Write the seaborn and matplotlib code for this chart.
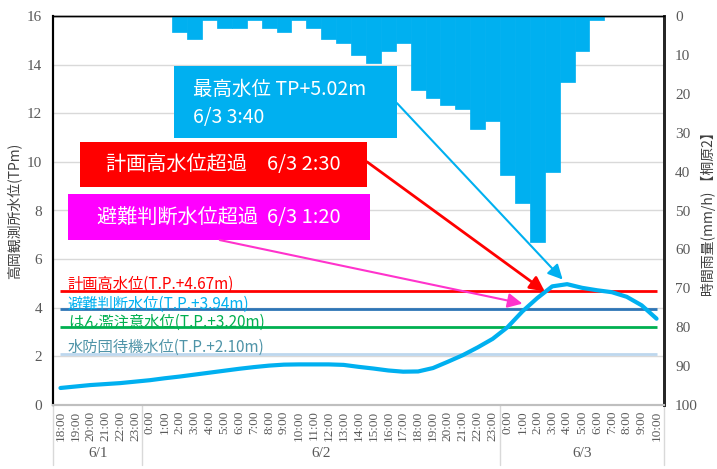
import pandas as pd
import matplotlib.pyplot as plt
from matplotlib.patches import Rectangle
import seaborn as sns

# ---------------------------------------------------------
# Data (hourly, 6/1 18:00 -> 6/3 10:00)
# ---------------------------------------------------------
time_labels = ([f'{h}:00' for h in range(18, 24)] +
               [f'{h}:00' for h in range(0, 24)] +
               [f'{h}:00' for h in range(0, 11)])
day_labels = ['6/1', '6/2', '6/3']
day_spans = [(-0.5, 5.5), (5.5, 29.5), (29.5, 40.5)]

# hourly rainfall (mm/h) at 桐原2
rain = [0, 0, 0, 0, 0, 0,
        0, 0, 4, 6, 1, 3, 3, 1, 3, 4, 1, 3, 6, 7, 10, 12, 9, 7,
        19, 21, 23, 24, 29, 27,
        41, 48, 58, 40, 17, 9, 1, 0, 0, 0, 0]

# water level at 高岡観測所 (T.P. m)
level = [0.70, 0.76, 0.82, 0.86, 0.90, 0.96,
         1.02, 1.10, 1.17, 1.25, 1.33, 1.41, 1.49, 1.56, 1.62, 1.66,
         1.67, 1.67, 1.67, 1.65, 1.57, 1.50, 1.42, 1.37,
         1.38, 1.52, 1.78, 2.05, 2.37, 2.72,
         3.20, 3.85, 4.40, 4.88, 4.97, 4.82, 4.72, 4.64, 4.45, 4.10, 3.55]

thr_names = ['計画高水位(T.P.+4.67m)', '避難判断水位(T.P.+3.94m)',
             'はん濫注意水位(T.P.+3.20m)', '水防団待機水位(T.P.+2.10m)']
thr_values = [4.67, 3.94, 3.20, 2.10]
thr_line_colors = ['#FF0000', '#2E75B6', '#00B050', '#BDD7EE']
thr_text_colors = ['#FF0000', '#00B0F0', '#00B050', '#4F94A8']
thr_text_y = [4.96, 4.16, 3.40, 2.37]

df = pd.DataFrame({'pos': range(len(time_labels)), 'rain': rain, 'level': level})

# ---------------------------------------------------------
# Plot
# ---------------------------------------------------------
sns.set_style('white')
plt.rcParams['font.family'] = ['Noto Sans CJK JP', 'DejaVu Sans']
serif = 'Liberation Serif'
gray = '#595959'
blue = '#00B0F0'

fig = plt.figure(figsize=(7.17, 4.69), dpi=100)
ax = fig.add_axes([53 / 717, 1 - 405 / 469, 611 / 717, 389 / 469])
ax2 = ax.twinx()

# rainfall bars hanging from the top (right axis, inverted)
sns.barplot(data=df, x='pos', y='rain', ax=ax2, color=blue, saturation=1,
            width=1.0, linewidth=0.5, edgecolor=blue)
ax2.set_ylim(100, 0)

# threshold lines + labels
for name, v, lc, tc, ty in zip(thr_names, thr_values, thr_line_colors,
                               thr_text_colors, thr_text_y):
    ax.hlines(v, 0, 40, color=lc, lw=2, zorder=2)
    ax.text(0.5, ty, name, color=tc, fontsize=11, va='center', ha='left', zorder=3)

# water level
sns.lineplot(data=df, x='pos', y='level', ax=ax, color=blue, lw=3, zorder=4)

ax.set_ylim(0, 16)
ax.set_xlim(-0.5, 40.5)
ax.set_yticks(range(0, 17, 2))
ax.set_xticks(range(len(time_labels)))
ax.set_xticklabels(time_labels, rotation=90)
ax2.set_yticks(range(0, 101, 10))
ax.yaxis.grid(True, color='#D9D9D9', lw=1)
ax.xaxis.grid(False)
ax.set_axisbelow(True)

for a in (ax, ax2):
    a.tick_params(length=0, labelfontfamily=serif, labelcolor=gray)
    a.tick_params(axis='y', labelsize=11)
    a.spines['top'].set_color('black')
    a.spines['top'].set_linewidth(1)
    a.spines['left'].set_color('black')
    a.spines['left'].set_linewidth(1.5)
    a.spines['right'].set_color('#262626')
    a.spines['right'].set_linewidth(2)
    a.spines['bottom'].set_color('#BFBFBF')
    a.spines['bottom'].set_linewidth(1.5)
ax.tick_params(axis='y', pad=8)
ax2.tick_params(axis='y', pad=8)
ax.tick_params(axis='x', pad=4, labelsize=9.5)

ax.set_xlabel('')
ax.set_ylabel('高岡観測所水位(TPm)', fontsize=10, color='#404040', labelpad=4)
ax2.set_ylabel('時間雨量(mm/h) 【桐原2】', fontsize=10, color='#404040',
               labelpad=2, rotation=90)

# date groups below the hour labels
trans = ax.get_xaxis_transform()
for x in [-0.5, 5.5, 29.5, 40.5]:
    ax.plot([x, x], [0, -0.155], transform=trans, color='#D9D9D9', lw=1, clip_on=False)
for d, (x0, x1) in zip(day_labels, day_spans):
    ax.text((x0 + x1) / 2, -0.125, d, transform=trans, ha='center', va='center',
            family=serif, color=gray, fontsize=11)

# ---------------------------------------------------------
# Callout boxes and arrows (drawn on ax2 so they sit above the bars)
# ---------------------------------------------------------
boxes = [
    ((0.198, 0.686), 0.365, 0.185, blue),
    ((0.044, 0.560), 0.470, 0.116, '#FF0000'),
    ((0.0245, 0.424), 0.4945, 0.118, '#FF00FF'),
]
for (x0, y0), w, h, c in boxes:
    ax2.add_patch(Rectangle((x0, y0), w, h, transform=ax2.transAxes,
                            facecolor=c, edgecolor='none', zorder=5, clip_on=False))

ax2.text(0.229, 0.810, '最高水位 TP+5.02m', transform=ax2.transAxes, color='white',
         fontsize=14, va='center', ha='left', zorder=6)
ax2.text(0.229, 0.740, '6/3 3:40', transform=ax2.transAxes, color='white',
         fontsize=14, va='center', ha='left', zorder=6)
ax2.text(0.279, 0.619, '計画高水位超過　6/3 2:30', transform=ax2.transAxes,
         color='white', fontsize=14.5, va='center', ha='center', zorder=6)
ax2.text(0.272, 0.482, '避難判断水位超過  6/3 1:20', transform=ax2.transAxes,
         color='white', fontsize=14.5, va='center', ha='center', zorder=6)

arrows = [
    ((33.7, 5.16), (0.563, 0.776), blue, 1.5),
    ((32.5, 4.67), (0.514, 0.625), '#FF0000', 2),
    ((31.0, 4.17), (0.273, 0.424), '#FF33CC', 1.5),
]
for tip, start, c, lw in arrows:
    ax2.annotate('', xy=tip, xycoords=ax.transData, xytext=start,
                 textcoords='axes fraction',
                 arrowprops=dict(arrowstyle='-|>', color=c, lw=lw,
                                 mutation_scale=22, shrinkA=0, shrinkB=0),
                 zorder=7)

plt.savefig('out.png', dpi=100)
